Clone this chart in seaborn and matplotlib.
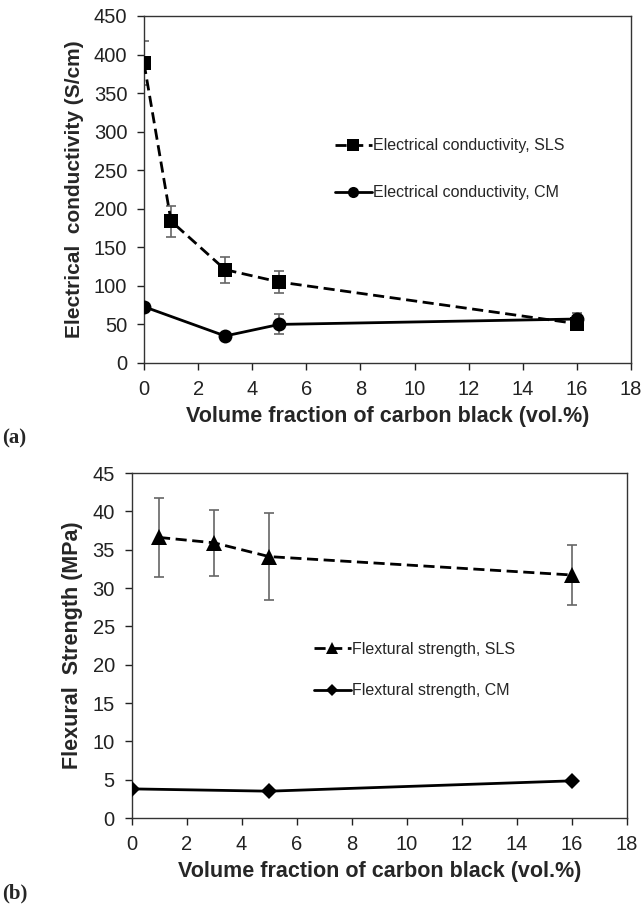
import numpy as np
import pandas as pd
import matplotlib
matplotlib.use("Agg")
import matplotlib.pyplot as plt
import seaborn as sns

# ---- data (a) ----
ec_sls_x = [0, 1, 3, 5, 16]
ec_sls_y = [389, 184, 121, 105, 51]
ec_sls_err = [29, 20, 17, 14, 6]
ec_cm_x = [0, 3, 5, 16]
ec_cm_y = [73, 35, 50, 57]
ec_cm_err = [5, 3, 13, 8]

# ---- data (b) ----
fs_sls_x = [1, 3, 5, 16]
fs_sls_y = [36.6, 35.9, 34.1, 31.7]
fs_sls_err = [5.2, 4.3, 5.7, 3.9]
fs_cm_x = [0, 5, 16]
fs_cm_y = [3.8, 3.5, 4.85]

x_ticks = [0, 2, 4, 6, 8, 10, 12, 14, 16, 18]
ec_ticks = [0, 50, 100, 150, 200, 250, 300, 350, 400, 450]
fs_ticks = [0, 5, 10, 15, 20, 25, 30, 35, 40, 45]

sns.set_style("ticks")
plt.rcParams['font.family'] = ['Liberation Sans', 'DejaVu Sans']

fig = plt.figure(figsize=(6.44, 9.09), dpi=100)
ax1 = fig.add_axes([0.2236, 0.6007, 0.7562, 0.3817])
ax2 = fig.add_axes([0.2042, 0.1001, 0.7694, 0.3795])

ERR_C = '#666666'

def style_axes(ax, yticks, ylabel, ylab_size):
    ax.set_xlim(0, 18)
    ax.set_ylim(yticks[0], yticks[-1])
    ax.set_xticks(x_ticks)
    ax.set_yticks(yticks)
    ax.tick_params(axis='both', direction='out', length=5, width=1,
                   labelsize=14.5, colors='#222222', pad=7)
    for s in ax.spines.values():
        s.set_visible(True)
        s.set_color('#333333')
        s.set_linewidth(1.0)
    ax.set_xlabel('Volume fraction of carbon black (vol.%)', fontsize=15.5,
                  fontweight='bold', labelpad=5)
    ax.set_ylabel(ylabel, fontsize=ylab_size, fontweight='bold', labelpad=7)

# ---- panel (a) ----
ax1.errorbar(ec_sls_x, ec_sls_y, yerr=ec_sls_err, fmt='none', ecolor=ERR_C,
             elinewidth=1.2, capsize=3.5, capthick=1.2, zorder=1)
ax1.errorbar(ec_cm_x, ec_cm_y, yerr=ec_cm_err, fmt='none', ecolor=ERR_C,
             elinewidth=1.2, capsize=3.5, capthick=1.2, zorder=1)
df_a1 = pd.DataFrame({'x': ec_sls_x, 'y': ec_sls_y})
df_a2 = pd.DataFrame({'x': ec_cm_x, 'y': ec_cm_y})
sns.lineplot(data=df_a1, x='x', y='y', ax=ax1, color='black', linewidth=2,
             linestyle=(0, (4, 2)), marker='s', markersize=10, markeredgewidth=0,
             label='Electrical conductivity, SLS', zorder=3)
sns.lineplot(data=df_a2, x='x', y='y', ax=ax1, color='black', linewidth=2,
             marker='o', markersize=10, markeredgewidth=0,
             label='Electrical conductivity, CM', zorder=3)
style_axes(ax1, ec_ticks, 'Electrical  conductivity (S/cm)', 15)
ax1.legend(loc='upper left', bbox_to_anchor=(0.392, 0.647), frameon=False,
           fontsize=11.5, handlelength=2.3, handletextpad=0.1, borderpad=0,
           borderaxespad=0, labelspacing=2.0, markerscale=0.8)

# ---- panel (b) ----
ax2.errorbar(fs_sls_x, fs_sls_y, yerr=fs_sls_err, fmt='none', ecolor=ERR_C,
             elinewidth=1.2, capsize=3.5, capthick=1.2, zorder=1)
df_b1 = pd.DataFrame({'x': fs_sls_x, 'y': fs_sls_y})
df_b2 = pd.DataFrame({'x': fs_cm_x, 'y': fs_cm_y})
sns.lineplot(data=df_b1, x='x', y='y', ax=ax2, color='black', linewidth=2,
             linestyle=(0, (4, 2)), marker='^', markersize=11, markeredgewidth=0,
             label='Flextural strength, SLS', zorder=3)
sns.lineplot(data=df_b2, x='x', y='y', ax=ax2, color='black', linewidth=2,
             marker='D', markersize=8, markeredgewidth=0,
             label='Flextural strength, CM', zorder=3)
style_axes(ax2, fs_ticks, 'Flexural  Strength (MPa)', 15.5)
ax2.legend(loc='upper left', bbox_to_anchor=(0.368, 0.51), frameon=False,
           fontsize=11.5, handlelength=2.3, handletextpad=0.1, borderpad=0,
           borderaxespad=0, labelspacing=1.65, markerscale=0.8)

# panel labels
fig.text(0.003, 1 - 438 / 909, '(a)', fontsize=15, fontweight='bold',
         family=['Liberation Serif', 'DejaVu Serif'], va='center', ha='left')
fig.text(0.003, 1 - 893 / 909, '(b)', fontsize=15, fontweight='bold',
         family=['Liberation Serif', 'DejaVu Serif'], va='center', ha='left')

fig.savefig('out.png', dpi=100)
